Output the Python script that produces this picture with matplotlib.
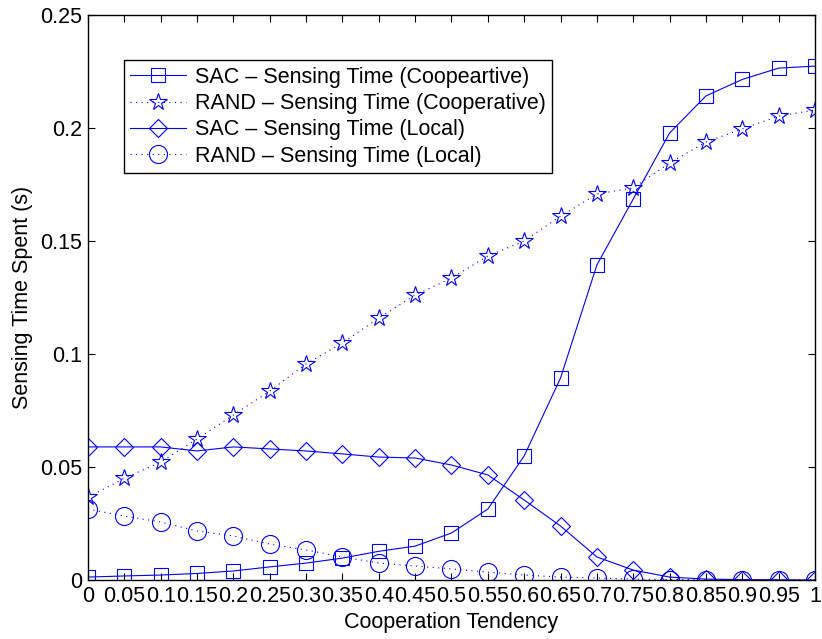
import numpy as np
import matplotlib
matplotlib.use("Agg")
import matplotlib.pyplot as plt

plt.rcParams.update({"font.family": ["Liberation Sans", "DejaVu Sans"],
                     "font.size": 15.5})

# cooperation tendency grid
x = [0, 0.05, 0.1, 0.15, 0.2, 0.25, 0.3, 0.35, 0.4, 0.45, 0.5,
     0.55, 0.6, 0.65, 0.7, 0.75, 0.8, 0.85, 0.9, 0.95, 1.0]

sac_coop = [0.0013, 0.0018, 0.0022, 0.0029, 0.0040, 0.0058, 0.0075, 0.0097,
            0.0127, 0.0150, 0.0208, 0.0314, 0.0549, 0.0894, 0.1394, 0.1686,
            0.1978, 0.2142, 0.2215, 0.2265, 0.2274]
rand_coop = [0.0367, 0.0450, 0.0522, 0.0624, 0.0730, 0.0836, 0.0956, 0.1049,
             0.1159, 0.1261, 0.1336, 0.1434, 0.1500, 0.1610, 0.1708, 0.1735,
             0.1845, 0.1938, 0.1996, 0.2053, 0.2080]
sac_local = [0.0589, 0.0589, 0.0589, 0.0571, 0.0589, 0.0580, 0.0571, 0.0558,
             0.0544, 0.0540, 0.0509, 0.0465, 0.0354, 0.0239, 0.0102, 0.0044,
             0.0013, 0.0004, 0.0002, 0.0001, 0.0]
rand_local = [0.0314, 0.0283, 0.0257, 0.0217, 0.0195, 0.0159, 0.0133, 0.0102,
              0.0075, 0.0062, 0.0049, 0.0035, 0.0022, 0.0013, 0.0009, 0.0004,
              0.0002, 0.0001, 0.0, 0.0, 0.0]

labels = ["SAC \u2013 Sensing Time (Coopeartive)",
          "RAND \u2013 Sensing Time (Cooperative)",
          "SAC \u2013 Sensing Time (Local)",
          "RAND \u2013 Sensing Time (Local)"]

xticks = x
xticklabels = ["0", "0.05", "0.1", "0.15", "0.2", "0.25", "0.3", "0.35", "0.4",
               "0.45", "0.5", "0.55", "0.6", "0.65", "0.7", "0.75", "0.8",
               "0.85", "0.9", "0.95", "1"]
yticks = [0, 0.05, 0.1, 0.15, 0.2, 0.25]
yticklabels = ["0", "0.05", "0.1", "0.15", "0.2", "0.25"]

BLUE = (0, 0, 1)
DOT = (0, (1, 4))   # sparse matlab-like dotted line

fig = plt.figure(figsize=(8.22, 6.39), dpi=100)
ax = fig.add_axes([0.107, 0.0923, 0.8845, 0.8842])

ax.plot(x, sac_coop, "-", color=BLUE, lw=0.8, marker="s", ms=10.5,
        mfc="none", mec=BLUE, mew=0.8, label=labels[0])
ax.plot(x, rand_coop, color=BLUE, ls=DOT, lw=0.8, marker="*", ms=13,
        mfc="none", mec=BLUE, mew=0.8, label=labels[1])
ax.plot(x, sac_local, "-", color=BLUE, lw=0.8, marker="D", ms=9.5,
        mfc="none", mec=BLUE, mew=0.8, label=labels[2])
ax.plot(x, rand_local, color=BLUE, ls=DOT, lw=0.8, marker="o", ms=13,
        mfc="none", mec=BLUE, mew=0.8, label=labels[3])

ax.set_xlim(0, 1)
ax.set_ylim(0, 0.25)
ax.set_xticks(xticks)
ax.set_xticklabels(xticklabels)
ax.set_yticks(yticks)
ax.set_yticklabels(yticklabels)
ax.tick_params(direction="in", top=True, right=True, length=5, width=0.8,
               pad=4)
for s in ax.spines.values():
    s.set_linewidth(1.0)
ax.set_xlabel("Cooperation Tendency", labelpad=4)
ax.set_ylabel("Sensing Time Spent (s)", labelpad=5)

leg = ax.legend(loc="upper left", bbox_to_anchor=(0.0495, 0.92),
                fancybox=False, framealpha=1, edgecolor="black",
                handlelength=2.6, labelspacing=0.25, borderpad=0.3,
                handletextpad=0.4, borderaxespad=0)
leg.get_frame().set_linewidth(1.0)

fig.savefig("out.png", dpi=100)
